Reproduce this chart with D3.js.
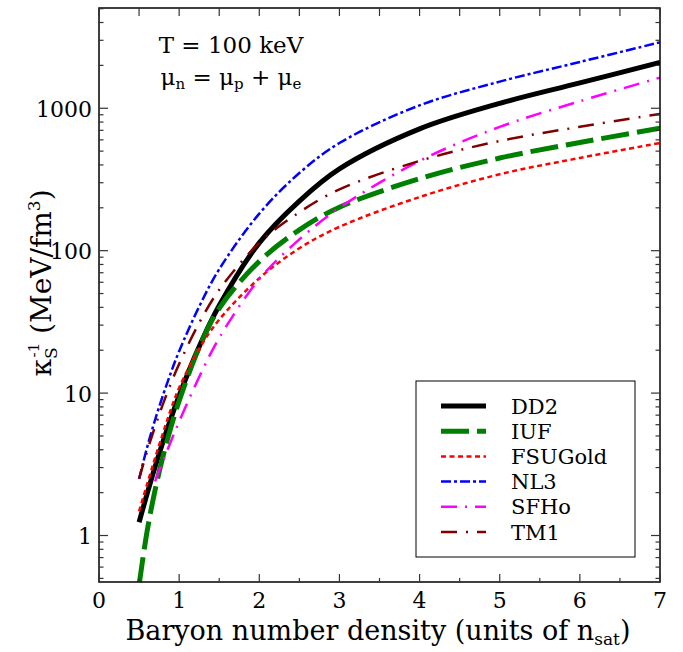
<!DOCTYPE html>
<html>
<head>
<meta charset="utf-8">
<script src="https://cdn.jsdelivr.net/npm/d3@7"></script>
<style>
  body { margin: 0; background: #fff; }
</style>
</head>
<body>
<svg id="chart" width="683" height="652"></svg>
<script>
// Baryon number density in units of n_sat
const density = [0.5, 0.6, 0.7, 0.8, 0.9, 1.0, 1.25, 1.5, 2, 2.5, 3, 4, 5, 6, 7];

// Inverse isentropic compressibility (MeV/fm^3) for each equation of state
const dd2     = [1.24, 1.96, 3.04, 4.58, 6.71, 9.6, 21.2, 41.2, 113.5, 223, 375, 716, 1082, 1506, 2099];
const iuf     = [0.45, 1.07, 2.09, 3.63, 5.82, 8.81, 20.9, 39.4, 84.1, 140, 202, 320, 447, 575, 724];
const fsugold = [1.48, 2.29, 3.51, 5.28, 7.78, 10.9, 20.5, 32.8, 64.0, 104, 147, 238, 344, 448, 570];
const nl3     = [2.50, 4.15, 6.50, 9.72, 14.06, 19.7, 40.5, 74.1, 182, 351, 570, 1048, 1538, 2113, 2904];
const sfho    = [null, null, 2.40, 3.35, 4.62, 6.31, 12.96, 24.4, 63.1, 120, 200, 427, 740, 1120, 1641];
const tm1     = [2.50, 3.90, 5.83, 8.43, 11.8, 16.0, 31.1, 53.1, 113.5, 186, 269, 427, 589, 741, 912];

const seriesNames = ["DD2", "IUF", "FSUGold", "NL3", "SFHo", "TM1"];
const seriesValues = [dd2, iuf, fsugold, nl3, sfho, tm1];

const xTicks = [0, 1, 2, 3, 4, 5, 6, 7];
const yTicks = [1, 10, 100, 1000];

// Line styles per series
const styles = [
  { color: "#000000", width: 5,   dash: null },
  { color: "#008000", width: 5,   dash: "28,8" },
  { color: "#ff0000", width: 2.5, dash: "5,3.5" },
  { color: "#0000ff", width: 2.5, dash: "10,3,3,3" },
  { color: "#ff00ff", width: 2.5, dash: "16,8,2,8" },
  { color: "#800000", width: 2.5, dash: "16,9,2,9" }
];

const FONT = "'DejaVu Serif', 'Liberation Serif', 'Times New Roman', serif";

const svg = d3.select("#chart");
const plotL = 99, plotR = 660, plotT = 8, plotB = 582;

const x = d3.scaleLinear().domain([0, 7]).range([plotL, plotR]);
const y = d3.scaleLog().domain([0.4716, 5058]).range([plotB, plotT]);

svg.append("defs").append("clipPath").attr("id", "plot-clip")
  .append("rect").attr("x", plotL).attr("y", plotT)
  .attr("width", plotR - plotL).attr("height", plotB - plotT);

// Curves
const line = d3.line()
  .defined(d => d[1] != null)
  .x(d => x(d[0]))
  .y(d => y(d[1]))
  .curve(d3.curveCatmullRom.alpha(0.5));

const curves = svg.append("g").attr("clip-path", "url(#plot-clip)");
seriesValues.forEach((vals, i) => {
  const pts = density.map((n, j) => [n, vals[j]]);
  curves.append("path")
    .attr("d", line(pts))
    .attr("fill", "none")
    .attr("stroke", styles[i].color)
    .attr("stroke-width", styles[i].width)
    .attr("stroke-dasharray", styles[i].dash)
    .attr("stroke-linejoin", "round");
});

// Frame
svg.append("rect")
  .attr("x", plotL).attr("y", plotT)
  .attr("width", plotR - plotL).attr("height", plotB - plotT)
  .attr("fill", "none").attr("stroke", "#000").attr("stroke-width", 1.5);

const tickColor = "#333";

// x ticks: major at integers, minor at halves, on bottom and top
const xMinor = d3.range(0.5, 7, 1);
const tickG = svg.append("g").attr("stroke", tickColor).attr("stroke-width", 1.2);
xTicks.forEach(t => {
  tickG.append("line").attr("x1", x(t)).attr("x2", x(t)).attr("y1", plotB).attr("y2", plotB - 8);
  tickG.append("line").attr("x1", x(t)).attr("x2", x(t)).attr("y1", plotT).attr("y2", plotT + 8);
});
xMinor.forEach(t => {
  tickG.append("line").attr("x1", x(t)).attr("x2", x(t)).attr("y1", plotB).attr("y2", plotB - 4);
  tickG.append("line").attr("x1", x(t)).attr("x2", x(t)).attr("y1", plotT).attr("y2", plotT + 8);
});

// y ticks: major at decades, minor at 2..9 of each decade, on left and right
const yMinor = [];
[0.1, 1, 10, 100, 1000].forEach(d => {
  for (let k = 2; k <= 9; k++) {
    const v = d * k;
    if (v >= 0.4716 && v <= 5058) yMinor.push(v);
  }
});
yTicks.forEach(t => {
  tickG.append("line").attr("x1", plotL).attr("x2", plotL + 9).attr("y1", y(t)).attr("y2", y(t));
  tickG.append("line").attr("x1", plotR).attr("x2", plotR - 9).attr("y1", y(t)).attr("y2", y(t));
});
yMinor.forEach(t => {
  tickG.append("line").attr("x1", plotL).attr("x2", plotL + 4.5).attr("y1", y(t)).attr("y2", y(t));
  tickG.append("line").attr("x1", plotR).attr("x2", plotR - 4.5).attr("y1", y(t)).attr("y2", y(t));
});

function label(sel, size) {
  return sel.style("font-family", FONT).style("font-size", size + "px").attr("fill", "#000");
}

// Tick labels
label(svg.append("g").selectAll("text").data(xTicks).join("text"), 22)
  .attr("x", d => x(d)).attr("y", 608)
  .attr("text-anchor", "middle")
  .text(d => d);

label(svg.append("g").selectAll("text").data(yTicks).join("text"), 22)
  .attr("x", 92).attr("y", d => y(d) + 8.5)
  .attr("text-anchor", "end")
  .text(d => d);

// x-axis title
const xt = label(svg.append("text"), 27)
  .attr("x", 378).attr("y", 640)
  .attr("text-anchor", "middle");
xt.append("tspan").text("Baryon number density (units of n");
xt.append("tspan").attr("dy", 5).style("font-size", "17px").text("sat");
xt.append("tspan").attr("dy", -5).text(")");

// y-axis title (rotated)
const yt = svg.append("g").attr("transform", "translate(51,283) rotate(-90)");
const ytext = label(yt.append("text"), 28).attr("text-anchor", "middle");
ytext.append("tspan").text("κ");
ytext.append("tspan").attr("dy", 6).style("font-size", "17px").text("S");
ytext.append("tspan").attr("dx", -10).attr("dy", -18).style("font-size", "15px").text("-1");
ytext.append("tspan").attr("dy", 12).text(" (MeV/fm");
ytext.append("tspan").attr("dy", -11).style("font-size", "17px").text("3");
ytext.append("tspan").attr("dy", 11).text(")");

// Annotation
label(svg.append("text"), 23).attr("x", 231).attr("y", 53)
  .attr("text-anchor", "middle")
  .text("T = 100 keV");
const ann = label(svg.append("text"), 23).attr("x", 231).attr("y", 85)
  .attr("text-anchor", "middle");
ann.append("tspan").text("μ");
ann.append("tspan").attr("dy", 4).style("font-size", "15px").text("n");
ann.append("tspan").attr("dy", -4).text(" = μ");
ann.append("tspan").attr("dy", 4).style("font-size", "15px").text("p");
ann.append("tspan").attr("dy", -4).text(" + μ");
ann.append("tspan").attr("dy", 4).style("font-size", "15px").text("e");

// Legend
const legend = svg.append("g");
legend.append("rect")
  .attr("x", 416).attr("y", 381).attr("width", 219).attr("height", 176)
  .attr("fill", "#fff").attr("stroke", "#000").attr("stroke-width", 1);
seriesNames.forEach((name, i) => {
  const ly = 406 + i * 25.2;
  legend.append("line")
    .attr("x1", 441).attr("x2", 486).attr("y1", ly).attr("y2", ly)
    .attr("stroke", styles[i].color)
    .attr("stroke-width", styles[i].width)
    .attr("stroke-dasharray", styles[i].dash);
  label(legend.append("text"), 21)
    .attr("x", 511).attr("y", ly + 7.5)
    .text(name);
});
</script>
</body>
</html>
